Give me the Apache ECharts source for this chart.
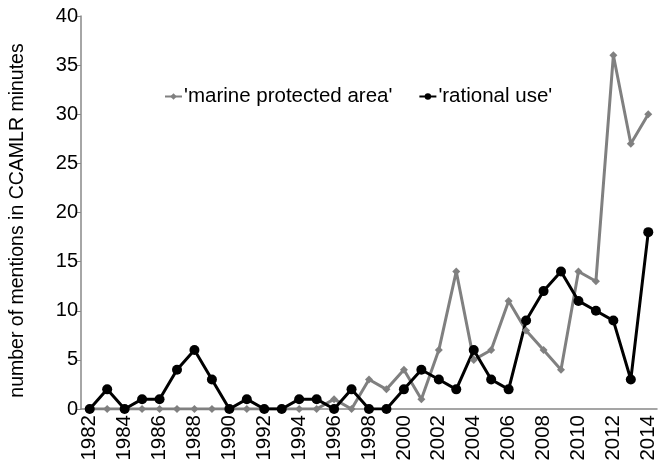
<!DOCTYPE html>
<html>
<head>
<meta charset="utf-8">
<script src="https://cdn.jsdelivr.net/npm/echarts@6/dist/echarts.min.js"></script>
<style>html,body{margin:0;padding:0;background:#fff}#c{width:658px;height:472px}</style>
</head>
<body>
<div id="c"></div>
<script>
const years = ['1982','1983','1984','1985','1986','1987','1988','1989','1990','1991','1992','1993','1994','1995','1996','1997','1998','1999','2000','2001','2002','2003','2004','2005','2006','2007','2008','2009','2010','2011','2012','2013','2014'];
const mpa = [0,0,0,0,0,0,0,0,0,0,0,0,0,0,1,0,3,2,4,1,6,14,5,6,11,8,6,4,14,13,36,27,30];
const rationalUse = [0,2,0,1,1,4,6,3,0,1,0,0,1,1,0,2,0,0,2,4,3,2,6,3,2,9,12,14,11,10,9,3,18];
const yTicks = [0,5,10,15,20,25,30,35,40];

const chart = echarts.init(document.getElementById('c'));
const font = 'Liberation Sans, Arial, sans-serif';
chart.setOption({
  animation: false,
  textStyle: {fontFamily: font},
  grid: {left: 81, top: 16, width: 576, height: 393, containLabel: false, outerBoundsMode: 'none'},
  legend: {
    left: 159, top: 81,
    itemWidth: 17, itemHeight: 8, itemGap: 26,
    textStyle: {fontSize: 20.5, color: '#000', fontFamily: font, padding: [0, 0, 0, -3]},
    data: ["'marine protected area'", "'rational use'"]
  },
  xAxis: {
    type: 'category',
    data: years,
    boundaryGap: true,
    axisLine: {lineStyle: {color: '#888', width: 1.5}},
    axisTick: {inside: true, length: 5, interval: 0, lineStyle: {color: '#888'}},
    axisLabel: {rotate: 90, interval: 1, fontSize: 20.5, color: '#000', margin: 6, fontFamily: font}
  },
  yAxis: {
    type: 'value',
    min: 0, max: 40, interval: 5,
    name: 'number of mentions in CCAMLR minutes',
    nameLocation: 'middle',
    nameGap: 53,
    nameTextStyle: {fontSize: 19.5, color: '#000', fontFamily: font, padding: [0, 16, 0, 0]},
    splitLine: {show: false},
    axisLine: {show: true, lineStyle: {color: '#888', width: 1.5}},
    axisTick: {show: true, length: 5, lineStyle: {color: '#888'}},
    axisLabel: {fontSize: 20, color: '#000', margin: 3, fontFamily: font,
      formatter: v => yTicks.includes(v) ? String(v) : ''}
  },
  series: [
    {
      name: "'marine protected area'",
      type: 'line',
      data: mpa,
      symbol: 'diamond',
      symbolSize: 8,
      lineStyle: {color: '#808080', width: 3},
      itemStyle: {color: '#808080'}
    },
    {
      name: "'rational use'",
      type: 'line',
      data: rationalUse,
      symbol: 'circle',
      symbolSize: 10,
      lineStyle: {color: '#000', width: 3},
      itemStyle: {color: '#000'},
      z: 3
    }
  ]
});
</script>
</body>
</html>
